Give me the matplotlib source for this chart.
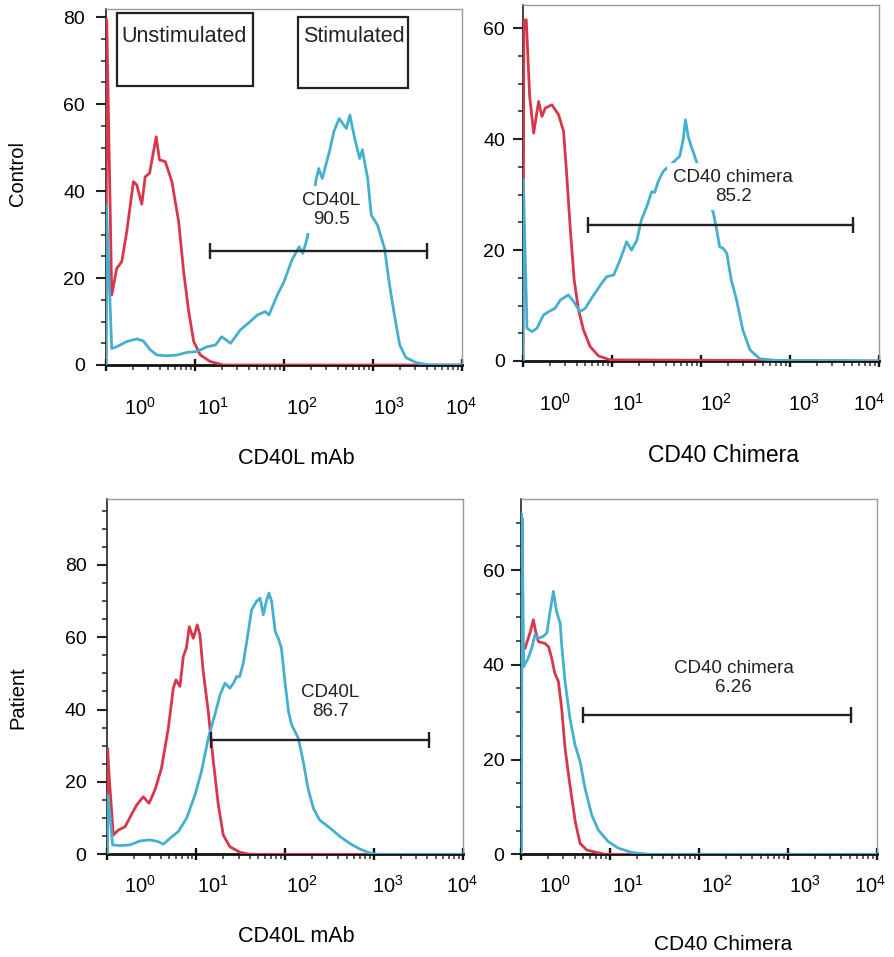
import numpy as np
import matplotlib
matplotlib.use("Agg")
import matplotlib.pyplot as plt
from matplotlib.ticker import LogLocator, NullFormatter, NullLocator
from matplotlib.patches import Rectangle

plt.rcParams['font.family'] = ['Liberation Sans', 'DejaVu Sans']
plt.rcParams['mathtext.default'] = 'regular'

RED = '#d8364a'
BLUE = '#45afd0'

# x values are log10 fluorescence (decades), y values are event counts

# Control / CD40L mAb
c_mab_red_x = [0, 0.008, 0.064, 0.12, 0.177, 0.233, 0.308, 0.346, 0.402, 0.44, 0.489, 0.564, 0.60,
               0.665, 0.74, 0.816, 0.872, 0.929, 0.985, 1.06, 1.17, 1.32, 4.0]
c_mab_red_y = [0, 79.4, 16.1, 22.2, 23.8, 30.7, 42.2, 41.4, 37.0, 43.3, 44.1, 52.5, 47.2,
               46.8, 42.2, 33.0, 21.5, 12.3, 5.4, 2.3, 0.8, 0, 0]
c_mab_blue_x = [0, 0.004, 0.064, 0.12, 0.233, 0.346, 0.42, 0.496, 0.571, 0.684, 0.797, 0.91, 1.02,
                1.135, 1.23, 1.30, 1.40, 1.51, 1.62, 1.70, 1.79, 1.83, 1.925, 2.0, 2.09, 2.17,
                2.21, 2.26, 2.36, 2.39, 2.43, 2.51, 2.56, 2.62, 2.70, 2.74, 2.79, 2.85, 2.88,
                2.94, 2.98, 3.05, 3.13, 3.18, 3.24, 3.30, 3.37, 3.48, 3.62, 4.0]
c_mab_blue_y = [0, 36.8, 3.8, 4.2, 5.4, 6.0, 5.5, 3.5, 2.3, 2.1, 2.3, 2.9, 3.1,
                4.2, 4.6, 6.5, 5.0, 8.1, 10.0, 11.5, 12.3, 11.5, 16.1, 19.2, 24.2, 27.2,
                25.7, 29.1, 42.6, 45.2, 42.9, 49.1, 53.7, 56.7, 54.4, 57.5, 52.5, 47.5, 49.5,
                42.9, 34.5, 32.2, 26.8, 19.2, 11.5, 4.6, 1.7, 0.6, 0, 0]

# Control / CD40 chimera
c_chi_red_x = [0, 0.01, 0.037, 0.075, 0.12, 0.175, 0.213, 0.25, 0.325, 0.40, 0.456, 0.49, 0.53,
               0.575, 0.624, 0.68, 0.754, 0.85, 0.98, 4.0]
c_chi_red_y = [0, 61.5, 61.5, 47.7, 41.1, 46.8, 44.1, 45.6, 46.2, 44.4, 41.4, 33.9, 24.2,
               14.6, 9.2, 5.6, 2.6, 0.9, 0.2, 0]
c_chi_blue_x = [0, 0.004, 0.045, 0.10, 0.157, 0.23, 0.29, 0.36, 0.42, 0.51, 0.57, 0.64, 0.70,
                0.77, 0.87, 0.94, 1.02, 1.09, 1.165, 1.22, 1.28, 1.33, 1.39, 1.445, 1.48,
                1.52, 1.576, 1.76, 1.80, 1.826, 1.856, 1.89, 1.93, 2.14, 2.17, 2.21, 2.25,
                2.29, 2.34, 2.40, 2.47, 2.55, 2.66, 2.85, 4.0]
c_chi_blue_y = [0, 32.7, 5.9, 5.3, 5.9, 8.3, 8.9, 9.5, 11.0, 11.9, 10.7, 8.9, 9.5,
                11.3, 13.7, 15.2, 15.5, 18.2, 21.5, 20.0, 21.8, 25.4, 27.8, 30.5, 30.4,
                32.4, 34.2, 36.9, 39.9, 43.5, 40.5, 38.7, 36.9, 26.6, 24.2, 20.6, 20.3,
                19.4, 14.6, 11.0, 5.6, 2.0, 0.4, 0.1, 0]

# Patient / CD40L mAb
p_mab_red_x = [0, 0.004, 0.02, 0.068, 0.124, 0.20, 0.27, 0.33, 0.405, 0.47, 0.537, 0.61, 0.687,
               0.743, 0.773, 0.818, 0.856, 0.89, 0.923, 0.968, 1.013, 1.043, 1.08, 1.137,
               1.19, 1.25, 1.306, 1.38, 1.49, 1.6, 4.0]
p_mab_red_y = [0, 29.3, 21.9, 5.3, 6.7, 7.6, 10.9, 13.6, 15.9, 14.1, 17.8, 23.8, 34.8,
               45.9, 48.2, 46.4, 54.7, 57.0, 62.9, 59.7, 63.4, 60.6, 50.5, 39.4,
               26.5, 13.6, 5.3, 2.1, 0.6, 0, 0]
p_mab_blue_x = [0, 0.004, 0.03, 0.06, 0.14, 0.255, 0.37, 0.48, 0.574, 0.63, 0.705, 0.80, 0.893,
                0.987, 1.06, 1.137, 1.21, 1.27, 1.325, 1.38, 1.42, 1.456, 1.49, 1.53, 1.57,
                1.625, 1.68, 1.72, 1.756, 1.79, 1.82, 1.85, 1.89, 1.925, 1.96, 2.0, 2.04,
                2.075, 2.15, 2.206, 2.26, 2.32, 2.39, 2.51, 2.62, 2.73, 2.84, 2.96, 3.05, 4.0]
p_mab_blue_y = [0, 16.4, 10.9, 2.6, 2.4, 2.6, 3.7, 4.0, 3.5, 2.8, 4.4, 6.3, 10.0,
                16.4, 22.9, 32.1, 38.5, 44.1, 47.3, 45.9, 47.3, 49.1, 49.1, 52.8, 58.8,
                67.6, 69.9, 70.8, 66.2, 69.9, 72.2, 69.9, 61.6, 59.7, 57.0, 47.7, 39.4,
                35.8, 32.1, 25.6, 18.2, 12.7, 9.5, 7.2, 4.9, 3.0, 1.5, 0.3, 0, 0]

# Patient / CD40 chimera
p_chi_red_x = [0.045, 0.10, 0.139, 0.165, 0.195, 0.27, 0.31, 0.345, 0.38, 0.42, 0.457, 0.495,
               0.55, 0.61, 0.664, 0.74, 0.85, 0.945, 4.0]
p_chi_red_y = [43.5, 46.7, 49.5, 47.0, 44.9, 44.5, 43.8, 41.4, 38.2, 36.5, 30.8, 22.4,
               14.6, 6.9, 2.3, 0.9, 0.4, 0, 0]
p_chi_blue_x = [0, 0.002, 0.006, 0.012, 0.03, 0.08, 0.12, 0.157, 0.195, 0.25, 0.29, 0.326, 0.364,
                0.40, 0.44, 0.457, 0.495, 0.55, 0.607, 0.664, 0.72, 0.795, 0.87, 0.98, 1.095,
                1.245, 1.43, 4.0]
p_chi_blue_y = [0, 72.0, 1.0, 71.0, 39.6, 41.4, 43.5, 46.3, 45.6, 46.0, 46.7, 51.2, 55.5,
                51.2, 48.8, 44.2, 36.5, 28.7, 23.1, 19.6, 13.9, 8.3, 5.1, 2.7, 1.3,
                0.4, 0, 0]

# gates: (start decade, end decade, height), labels
gates = [(1.17, 3.61, 26.3), (0.725, 3.71, 24.5), (1.167, 3.625, 31.6), (0.70, 3.71, 29.4)]
gate_text = ['CD40L\n90.5', 'CD40 chimera\n85.2', 'CD40L\n86.7', 'CD40 chimera\n6.26']
gate_text_xy = [(2.53, 35.7), (2.36, 31.4), (2.51, 42.2), (2.39, 37.2)]

tick_text = ['$10^{0}$', '$10^{1}$', '$10^{2}$', '$10^{3}$', '$10^{4}$']

fig = plt.figure(figsize=(8.94, 9.57), dpi=100)

axes_pos = [[0.1186, 0.6186, 0.3982, 0.372],
            [0.585, 0.6228, 0.3982, 0.372],
            [0.120, 0.1073, 0.3975, 0.3713],
            [0.5828, 0.1073, 0.3979, 0.3713]]
ytops = [81.9, 64.2, 98.2, 75.0]
ymajor_max = [80, 60, 80, 60]
yminor_max = [80, 60, 95, 70]
ylab_pad = [8, 6, 8, 5]
xlab_pos = [[0.38, 1.2, 2.2, 3.18, 3.99],
            [0.36, 1.18, 2.17, 3.16, 3.89],
            [0.37, 1.19, 2.19, 3.16, 3.99],
            [0.38, 1.2, 2.2, 3.19, 3.93]]
xlab_pad = [23, 23, 15, 15]
text_box = [True, True, False, False]

curves = [(c_mab_red_x, c_mab_red_y, c_mab_blue_x, c_mab_blue_y),
          (c_chi_red_x, c_chi_red_y, c_chi_blue_x, c_chi_blue_y),
          (p_mab_red_x, p_mab_red_y, p_mab_blue_x, p_mab_blue_y),
          (p_chi_red_x, p_chi_red_y, p_chi_blue_x, p_chi_blue_y)]

for i in range(4):
    ax = fig.add_axes(axes_pos[i])
    rx, ry, bx, by = curves[i]
    ax.plot(10 ** np.array(rx), ry, color=RED, lw=2.0, zorder=3)
    ax.plot(10 ** np.array(bx), by, color=BLUE, lw=2.0, zorder=4)

    g0, g1, gy = gates[i]
    ax.plot([10 ** g0, 10 ** g1], [gy, gy], color='#222222', lw=1.7, zorder=6)
    ax.plot([10 ** g0, 10 ** g1], [gy, gy], ls='none', marker='|', ms=11, mew=1.7,
            color='#222222', zorder=6)
    tx, ty = gate_text_xy[i]
    box = dict(facecolor='white', edgecolor='none', pad=4) if text_box[i] else None
    ax.text(10 ** tx, ty, gate_text[i], ha='center', va='center', fontsize=13.5,
            color='#222222', linespacing=1.15, zorder=5, bbox=box)

    ax.set_xscale('log')
    ax.set_xlim(1, 1e4)
    ax.set_ylim(0, ytops[i])
    ax.xaxis.set_major_locator(LogLocator(base=10, numticks=10))
    ax.xaxis.set_minor_locator(LogLocator(base=10, subs=np.arange(2, 10), numticks=10))
    ax.xaxis.set_major_formatter(NullFormatter())
    ax.xaxis.set_minor_formatter(NullFormatter())
    ax.set_yticks(np.arange(0, ymajor_max[i] + 1, 20))
    ax.set_yticks(np.arange(0, yminor_max[i] + 0.1, 5), minor=True)

    ax.tick_params(axis='y', which='major', length=7, width=1.5, labelsize=14,
                   pad=ylab_pad[i], color='#222222')
    ax.tick_params(axis='y', which='minor', length=3.5, width=1.2, color='#333333')
    ax.tick_params(axis='x', which='major', length=8, width=1.7, direction='inout', color='#111111')
    ax.tick_params(axis='x', which='minor', length=3.5, width=1.1, color='#333333')

    for s in ['top', 'right']:
        ax.spines[s].set_color('#9a9a9a')
        ax.spines[s].set_linewidth(1.0)
    ax.spines['left'].set_color('#222222')
    ax.spines['left'].set_linewidth(1.2)
    ax.spines['bottom'].set_color('#111111')
    ax.spines['bottom'].set_linewidth(2.0)

    sec = ax.secondary_xaxis('bottom')
    sec.set_xticks(10 ** np.array(xlab_pos[i]), tick_text)
    sec.xaxis.set_minor_locator(NullLocator())
    sec.tick_params(which='both', length=0, pad=xlab_pad[i], labelsize=14.5)
    sec.spines['bottom'].set_visible(False)

    if i == 0:
        ax.add_patch(Rectangle((0.030, 0.784), 0.382, 0.204, transform=ax.transAxes,
                               fill=False, ec='#222222', lw=1.6, zorder=7))
        ax.add_patch(Rectangle((0.539, 0.779), 0.309, 0.199, transform=ax.transAxes,
                               fill=False, ec='#222222', lw=1.6, zorder=7))
        ax.text(0.219, 0.924, 'Unstimulated', transform=ax.transAxes, ha='center',
                va='center', fontsize=15.5, color='#222222')
        ax.text(0.697, 0.924, 'Stimulated', transform=ax.transAxes, ha='center',
                va='center', fontsize=15.5, color='#222222')

fig.text(18 / 894, 1 - 173 / 957, 'Control', rotation=90, ha='center', va='center', fontsize=14.5)
fig.text(18 / 894, 1 - 698 / 957, 'Patient', rotation=90, ha='center', va='center', fontsize=14.5)
fig.text(296 / 894, 1 - 458 / 957, 'CD40L mAb', ha='center', va='center', fontsize=15.5)
fig.text(724 / 894, 1 - 455 / 957, 'CD40 Chimera', ha='center', va='center', fontsize=16.5)
fig.text(296 / 894, 1 - 937 / 957, 'CD40L mAb', ha='center', va='center', fontsize=15.5)
fig.text(723 / 894, 1 - 945 / 957, 'CD40 Chimera', ha='center', va='center', fontsize=15)

fig.savefig('out.png', dpi=100)
